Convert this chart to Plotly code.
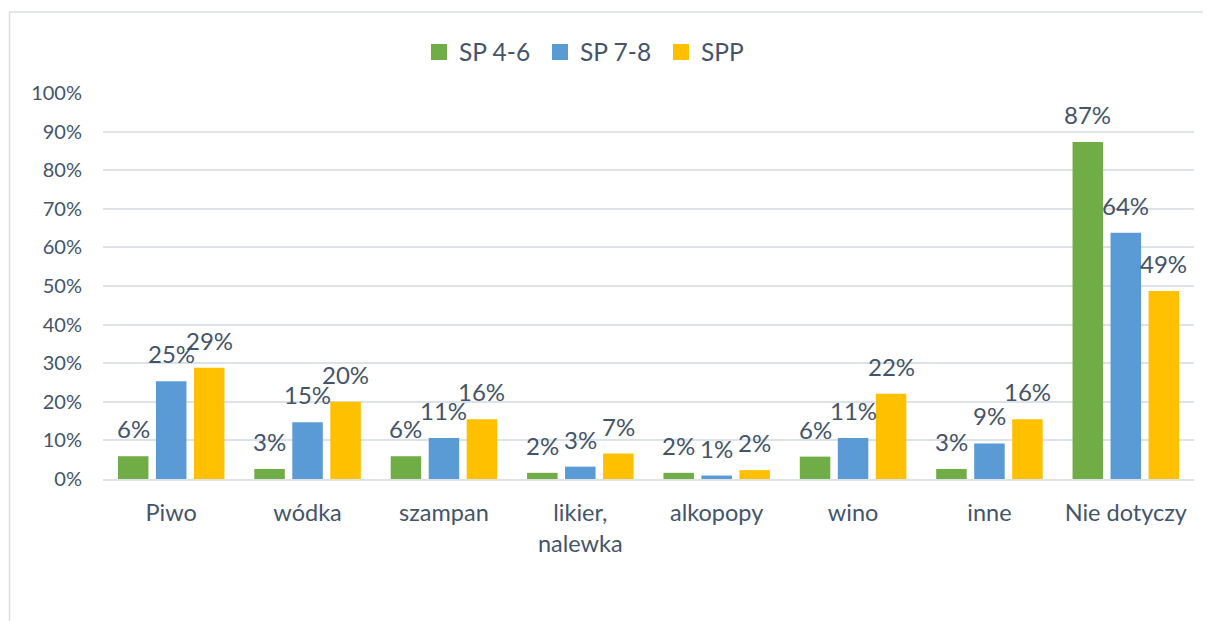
import plotly.graph_objects as go

categories = ["Piwo", "wódka", "szampan", "likier,<br>nalewka", "alkopopy", "wino", "inne", "Nie dotyczy"]
series_names = ["SP 4-6", "SP 7-8", "SPP"]
sp46 = [5.9, 2.6, 5.9, 1.6, 1.6, 5.8, 2.6, 87.3]
sp78 = [25.3, 14.7, 10.6, 3.2, 0.9, 10.6, 9.2, 63.8]
spp = [28.8, 20.0, 15.5, 6.6, 2.3, 22.1, 15.5, 48.7]
y_ticks = [0, 10, 20, 30, 40, 50, 60, 70, 80, 90, 100]
y_tick_labels = [f"{t}%" for t in y_ticks]

colors = ["#70AD47", "#5B9BD5", "#FFC000"]
text_color = "#44546A"
grid_color = "#DDE2E9"
FONT = "Lato"

# the page body adds an 8px margin, so the figure is drawn 8px in from the window corner
OFF = 8
W, H = 1211 - OFF, 621 - OFF
ML = 103 - OFF
MT = 93 - OFF
MR = W - (1194 - OFF)
MB = H - (479 - OFF)
plot_w = W - ML - MR
plot_h = H - MT - MB
BARGAP = 0.164
BARGROUPGAP = 0.197

fig = go.Figure()
all_series = [sp46, sp78, spp]
for name, vals, col in zip(series_names, all_series, colors):
    fig.add_trace(go.Bar(
        x=categories, y=vals, name=name, marker=dict(color=col, line=dict(width=0)),
        showlegend=False, hoverinfo="skip",
    ))
# legend proxies with larger square markers
for name, col in zip(series_names, colors):
    fig.add_trace(go.Scatter(
        x=[None], y=[None], mode="markers", name=name,
        marker=dict(symbol="square", size=16, color=col), showlegend=True,
    ))

# data labels
cat_px = plot_w / len(categories)
slot_px = cat_px * (1 - BARGAP) / 3
annotations = []
for i, vals in enumerate(all_series):
    for c, v in zip(categories, vals):
        annotations.append(dict(
            x=c, y=v, xref="x", yref="y", text=f"{round(v)}%", showarrow=False,
            xanchor="center", yanchor="bottom", xshift=(i - 1) * slot_px, yshift=11,
            font=dict(family=FONT, size=24, color=text_color),
        ))

def px_x(p):
    return (p - OFF - ML) / plot_w

def px_y(p):
    return 1 - (p - OFF - MT) / plot_h

shapes = [
    dict(type="line", xref="paper", yref="paper", x0=px_x(9), x1=px_x(1220), y0=px_y(12), y1=px_y(12),
         line=dict(color="#D9DEE5", width=1.5)),
    dict(type="line", xref="paper", yref="paper", x0=px_x(9.5), x1=px_x(9.5), y0=px_y(12), y1=px_y(630),
         line=dict(color="#D9DEE5", width=1.5)),
]

fig.update_layout(
    width=W, height=H,
    margin=dict(l=ML, r=MR, t=MT, b=MB),
    paper_bgcolor="white", plot_bgcolor="white",
    barmode="group", bargap=BARGAP, bargroupgap=BARGROUPGAP,
    font=dict(family=FONT, size=20, color=text_color),
    legend=dict(orientation="h", x=px_x(419), xanchor="left", y=px_y(52), yanchor="middle",
                font=dict(family=FONT, size=24.5, color=text_color), itemwidth=30,
                entrywidth=76, entrywidthmode="pixels",
                bgcolor="rgba(0,0,0,0)"),
    annotations=annotations,
    shapes=shapes,
    showlegend=True,
)
fig.update_xaxes(type="category", showgrid=False, showline=True, linecolor=grid_color, linewidth=1.5,
                 ticks="", ticklabelstandoff=12, tickfont=dict(family=FONT, size=23.5, color=text_color),
                 fixedrange=True)
fig.update_yaxes(range=[0, 100], tickvals=y_ticks, ticktext=y_tick_labels, showgrid=True,
                 gridcolor=grid_color, gridwidth=1.5, zeroline=False, showline=False, ticks="",
                 ticklabelstandoff=20, tickfont=dict(family=FONT, size=20, color=text_color),
                 fixedrange=True)

fig.write_html("out.html", config=dict(displayModeBar=False))
